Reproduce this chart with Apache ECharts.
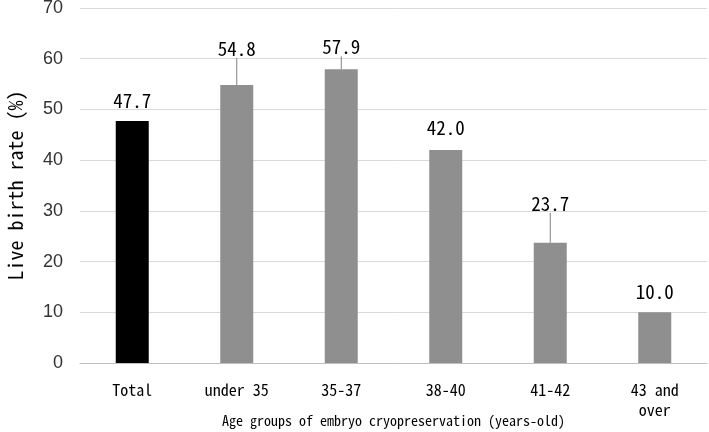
<!DOCTYPE html>
<html>
<head>
<meta charset="utf-8">
<script src="https://cdn.jsdelivr.net/npm/echarts@6/dist/echarts.min.js"></script>
<style>
  html, body { margin: 0; padding: 0; background: #fff; }
  #chart { width: 709px; height: 432px; }
</style>
</head>
<body>
<div id="chart"></div>
<script>
// categories and values
var categories = ["Total", "under 35", "35-37", "38-40", "41-42", "43 and\nover"];
var birthRate = [47.7, 54.8, 57.9, 42.0, 23.7, 10.0];
var yTicks = { min: 0, max: 70, interval: 10 };

// extra label lift (px) and which labels get a leader line
var labelLift = [0, -16, -2, -2, -19, 0];
var withLine = [false, true, true, false, true, false];

var monoFont = '"Noto Sans Mono CJK JP", "Noto Sans CJK JP", "DejaVu Sans Mono", monospace';

var chart = echarts.init(document.getElementById("chart"));

var option = {
  animation: false,
  grid: {
    left: 80,
    right: 2,
    top: 8,
    bottom: 69,
    containLabel: false,
    outerBoundsMode: "none",
  },
  xAxis: {
    type: "category",
    data: categories,
    name: "Age groups of embryo cryopreservation (years-old)",
    nameLocation: "middle",
    nameGap: 51,
    nameMoveOverlap: false,
    nameTextStyle: { fontFamily: monoFont, fontSize: 14, color: "#000" },
    axisTick: { show: false },
    axisLine: { lineStyle: { color: "#bfbfbf", width: 1 } },
    axisLabel: {
      fontFamily: monoFont,
      fontSize: 16,
      color: "#000",
      margin: 17,
      lineHeight: 20,
      interval: 0,
    },
  },
  yAxis: {
    type: "value",
    min: yTicks.min,
    max: yTicks.max,
    interval: yTicks.interval,
    name: "Live birth rate (%)",
    nameLocation: "middle",
    nameGap: 55,
    nameTextStyle: { fontFamily: monoFont, fontSize: 20, color: "#000" },
    axisLine: { show: false },
    axisTick: { show: false },
    splitLine: { lineStyle: { color: "#d9d9d9", width: 1 } },
    axisLabel: {
      fontFamily: '"Liberation Sans", Arial, sans-serif',
      fontSize: 18,
      color: "#333",
      margin: 17,
    },
  },
  series: [
    {
      type: "bar",
      barWidth: 33,
      data: birthRate.map(function (v, i) {
        return {
          value: v,
          itemStyle: { color: i === 0 ? "#000000" : "#8f8f8f" },
          labelLine: { show: withLine[i] },
        };
      }),
      label: {
        show: true,
        position: "top",
        distance: 11,
        fontFamily: monoFont,
        fontSize: 19,
        color: "#000",
        formatter: function (p) {
          return p.value.toFixed(1);
        },
      },
      labelLine: {
        show: false,
        lineStyle: { color: "#808080", width: 1 },
      },
      labelLayout: function (p) {
        return { dy: labelLift[p.dataIndex] };
      },
    },
  ],
};

chart.setOption(option);
</script>
</body>
</html>
